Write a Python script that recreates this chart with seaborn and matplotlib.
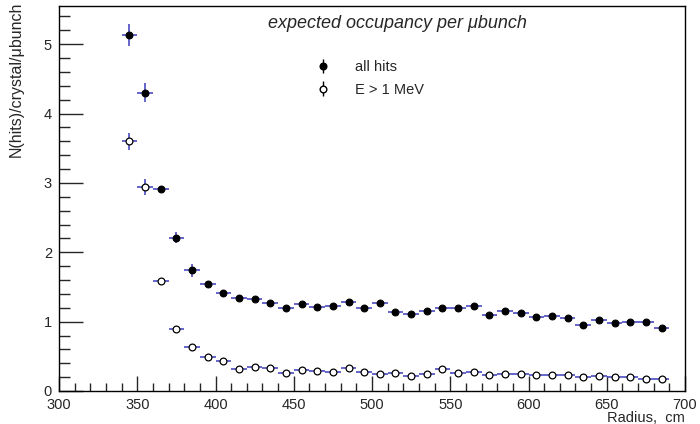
import numpy as np
import pandas as pd
import matplotlib
matplotlib.use("Agg")
import matplotlib.pyplot as plt
import seaborn as sns
from matplotlib.ticker import MultipleLocator

radius = [345, 355, 365, 375, 385, 395, 405, 415, 425, 435, 445, 455, 465, 475, 485,
          495, 505, 515, 525, 535, 545, 555, 565, 575, 585, 595, 605, 615, 625, 635,
          645, 655, 665, 675, 685]
all_hits = [5.13, 4.30, 2.91, 2.21, 1.74, 1.54, 1.41, 1.34, 1.32, 1.27, 1.19, 1.26, 1.21, 1.22, 1.29,
            1.20, 1.27, 1.14, 1.11, 1.16, 1.19, 1.19, 1.23, 1.09, 1.16, 1.12, 1.07, 1.08, 1.05, 0.95,
            1.03, 0.98, 1.00, 0.99, 0.91]
all_hits_err = [0.16, 0.14, 0.05, 0.08, 0.09, 0.04, 0.05, 0.03, 0.03, 0.03, 0.03, 0.03, 0.03, 0.03, 0.03,
                0.03, 0.03, 0.03, 0.03, 0.03, 0.03, 0.03, 0.03, 0.03, 0.03, 0.03, 0.03, 0.03, 0.03, 0.03,
                0.03, 0.03, 0.03, 0.03, 0.03]
e1mev = [3.60, 2.94, 1.58, 0.89, 0.64, 0.49, 0.43, 0.32, 0.35, 0.33, 0.26, 0.30, 0.29, 0.27, 0.33,
         0.27, 0.25, 0.26, 0.22, 0.25, 0.31, 0.26, 0.28, 0.23, 0.25, 0.24, 0.23, 0.23, 0.23, 0.20,
         0.21, 0.20, 0.20, 0.17, 0.18]
e1mev_err = [0.12, 0.11, 0.04, 0.03, 0.02, 0.02, 0.02, 0.02, 0.02, 0.02, 0.02, 0.02, 0.02, 0.02, 0.02,
             0.02, 0.02, 0.02, 0.02, 0.02, 0.02, 0.02, 0.02, 0.02, 0.02, 0.02, 0.02, 0.02, 0.02, 0.02,
             0.02, 0.02, 0.02, 0.02, 0.02]
bin_half = 5

sns.set_style("ticks")
plt.rcParams['font.family'] = ['Liberation Sans', 'DejaVu Sans']

W, H = 700, 424
fig = plt.figure(figsize=(7.0, 4.24), dpi=100)
ax = fig.add_axes([59/W, 1-391/H, (685-59)/W, (391-6)/H])

df = pd.DataFrame({"r": radius, "all": all_hits, "all_err": all_hits_err,
                   "e1": e1mev, "e1_err": e1mev_err})

bar_color = '#3c3cbc'
ax.errorbar(df["r"], df["all"], xerr=bin_half, yerr=df["all_err"], fmt='none',
            ecolor=bar_color, elinewidth=1.1, capsize=0, zorder=2)
ax.errorbar(df["r"], df["e1"], xerr=bin_half, yerr=df["e1_err"], fmt='none',
            ecolor=bar_color, elinewidth=1.1, capsize=0, zorder=2)
sns.scatterplot(data=df, x="r", y="all", ax=ax, color='black', edgecolor='black',
                s=24, linewidth=0.8, zorder=3, legend=False)
sns.scatterplot(data=df, x="r", y="e1", ax=ax, color='white', edgecolor='black',
                s=24, linewidth=0.9, zorder=3, legend=False)

ax.set_xlim(300, 700)
ax.set_ylim(0, 5.55)
ax.xaxis.set_major_locator(MultipleLocator(50))
ax.xaxis.set_minor_locator(MultipleLocator(10))
ax.yaxis.set_major_locator(MultipleLocator(1))
ax.yaxis.set_minor_locator(MultipleLocator(0.2))
ax.tick_params(axis='both', which='both', direction='in', top=False, right=False,
               labelsize=10.5, width=1)
ax.tick_params(axis='y', which='major', length=17, pad=5)
ax.tick_params(axis='y', which='minor', length=8)
ax.tick_params(axis='x', which='major', length=11, pad=5)
ax.tick_params(axis='x', which='minor', length=6)
for s in ax.spines.values():
    s.set_visible(True)
    s.set_linewidth(1)
    s.set_color('black')

ax.set_xlabel("Radius,  cm", fontsize=10.5, loc='right', labelpad=-1)
ax.set_ylabel("N(hits)/crystal/μbunch", fontsize=11.5, loc='top')
ax.yaxis.set_label_coords((24-59)/626, 1.012)

fig.text(397/W, 1-23/H, "expected occupancy per μbunch", fontsize=13, style='italic',
         ha='center', va='center')

h1 = ax.errorbar([], [], yerr=[], fmt='o', color='black', markersize=4.8, elinewidth=1, capsize=0)
h2 = ax.errorbar([], [], yerr=[], fmt='o', color='black', mfc='white', markersize=4.8,
                 elinewidth=1, capsize=0)
ax.legend([h1, h2], ["all hits", "E > 1 MeV"], loc='upper left',
          bbox_to_anchor=(314/W, 1-60/H), bbox_transform=fig.transFigure,
          frameon=False, fontsize=10.5, borderpad=0, borderaxespad=0,
          handlelength=1.2, handletextpad=1.6, labelspacing=0.6)

fig.savefig("out.png", dpi=100)
